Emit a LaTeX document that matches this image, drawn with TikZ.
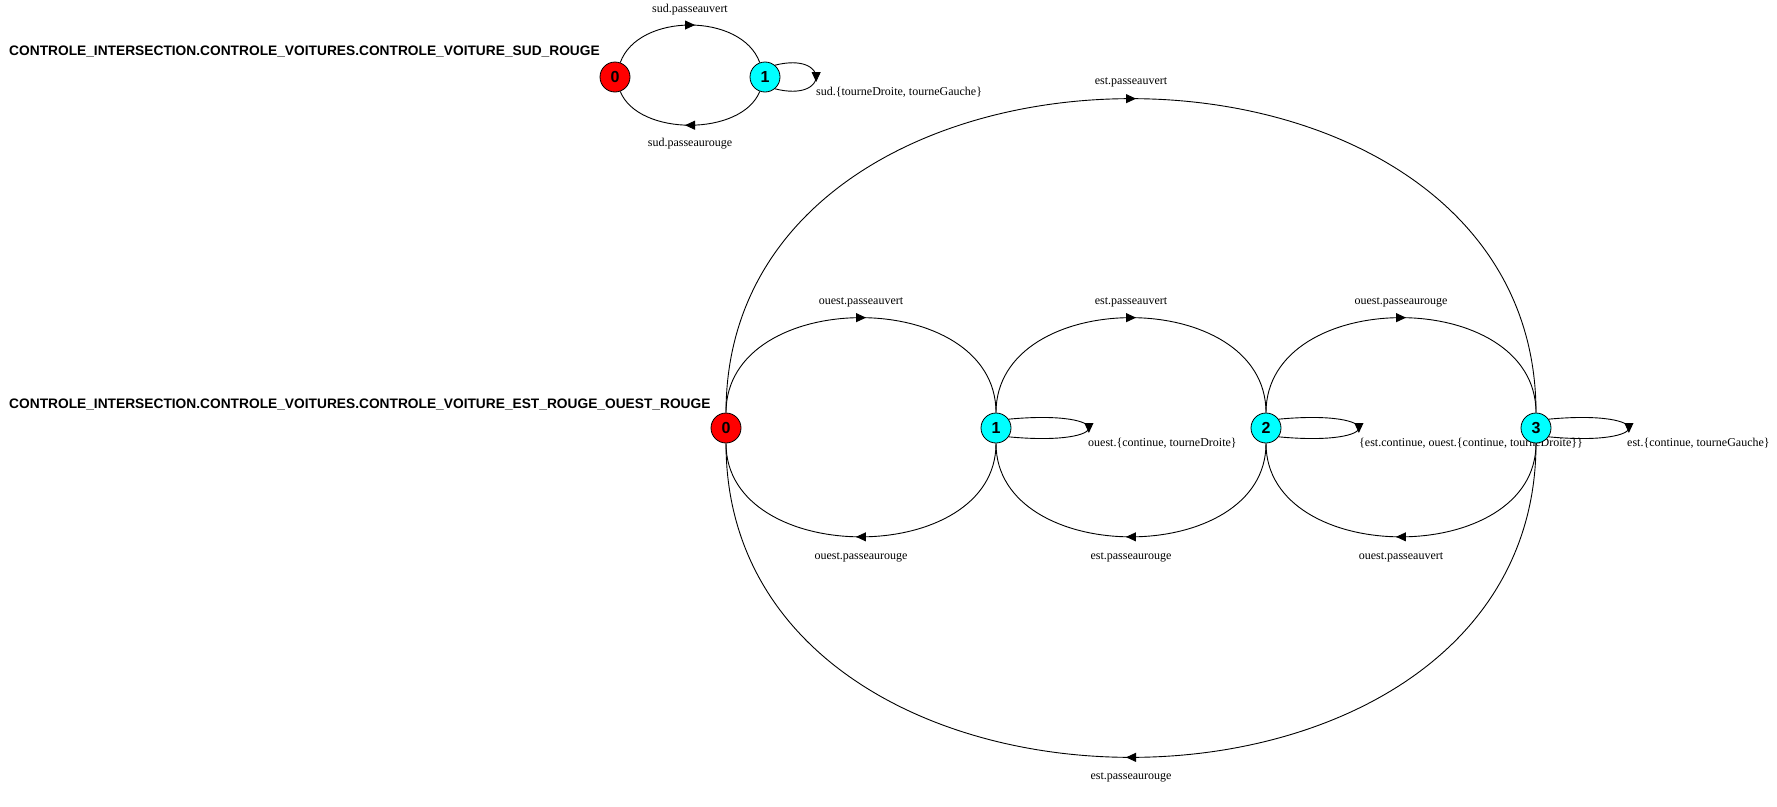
\documentclass[tikz,border=0pt]{standalone}
\usepackage{fontspec}
\setmainfont{Liberation Serif}
\newfontfamily\headfont{Liberation Sans}
\usetikzlibrary{arrows.meta,decorations.markings}
\pgfdeclarelayer{background}
\pgfsetlayers{background,main}
\definecolor{aqua}{RGB}{0,255,255}
\definecolor{pure red}{RGB}{255,0,0}

\tikzset{
  stnode/.style={circle, draw=black, line width=0.8pt, inner sep=0pt,
    minimum size=30pt,
    font=\headfont\bfseries\fontsize{16}{16}\selectfont},
  redstate/.style={stnode, fill=pure red},
  cyanstate/.style={stnode, fill=aqua},
  trans/.style={draw=black, line width=0.9pt, postaction={decorate},
    decoration={markings, mark=at position 0.5 with
      {\arrow[xshift=5pt]{Triangle[length=10pt,width=9pt]}}}},
  lbl/.style={font=\fontsize{12}{14}\selectfont, inner sep=0pt},
  looplbl/.style={lbl, anchor=west},
  title/.style={font=\headfont\bfseries\fontsize{13.75}{16}\selectfont,
    anchor=west, inner sep=0pt}
}

\begin{document}
\begin{tikzpicture}[x=1pt,y=-1pt]
\path[use as bounding box] (0,0) rectangle (1777,806);

% ---- process CONTROLE_VOITURE_SUD_ROUGE ----
\node[title] (t1) at (9,52) {CONTROLE\_INTERSECTION.CONTROLE\_VOITURES.CONTROLE\_VOITURE\_SUD\_ROUGE};
\node[redstate]  (a0) at (615,77) {0};
\node[cyanstate] (a1) at (765,77) {1};

% ---- process CONTROLE_VOITURE_EST_ROUGE_OUEST_ROUGE ----
\node[title] (t2) at (9,405) {CONTROLE\_INTERSECTION.CONTROLE\_VOITURES.CONTROLE\_VOITURE\_EST\_ROUGE\_OUEST\_ROUGE};
\node[redstate]  (b0) at (726,428) {0};
\node[cyanstate] (b1) at (996,428) {1};
\node[cyanstate] (b2) at (1266,428) {2};
\node[cyanstate] (b3) at (1536,428) {3};

\begin{pgfonlayer}{background}
  % transitions of the first process
  \draw[trans] (a0.70) .. controls +(18,-50) and +(-18,-50) .. (a1.110);
  \draw[trans] (a1.-110) .. controls +(-18,45) and +(18,45) .. (a0.-70);
  \draw[trans] (a1.50) .. controls +(55,-14) and +(55,14) .. (a1.-50);
  \node[lbl] (la01) at (690,10) {sud.passeauvert};
  \node[lbl] (la10) at (690,144) {sud.passeaurouge};
  \node[looplbl] (la11) at (816,92) {sud.\{tourneDroite, tourneGauche\}};

  % transitions of the second process
  \draw[trans] (b0) .. controls +(0,-142) and +(0,-142) .. (b1);
  \draw[trans] (b1) .. controls +(0,140) and +(0,140) .. (b0);
  \draw[trans] (b1) .. controls +(0,-142) and +(0,-142) .. (b2);
  \draw[trans] (b2) .. controls +(0,140) and +(0,140) .. (b1);
  \draw[trans] (b2) .. controls +(0,-142) and +(0,-142) .. (b3);
  \draw[trans] (b3) .. controls +(0,140) and +(0,140) .. (b2);
  \draw[trans] (b0) .. controls +(0,-434) and +(0,-434) .. (b3);
  \draw[trans] (b3) .. controls +(0,434) and +(0,434) .. (b0);
  \draw[trans] (b1.35) .. controls +(107,-10) and +(107,10) .. (b1.-35);
  \draw[trans] (b2.35) .. controls +(107,-10) and +(107,10) .. (b2.-35);
  \draw[trans] (b3.35) .. controls +(107,-10) and +(107,10) .. (b3.-35);

  \node[lbl] (lb01) at (861,302) {ouest.passeauvert};
  \node[lbl] (lb10) at (861,557) {ouest.passeaurouge};
  \node[lbl] (lb12) at (1131,302) {est.passeauvert};
  \node[lbl] (lb21) at (1131,557) {est.passeaurouge};
  \node[lbl] (lb23) at (1401,302) {ouest.passeaurouge};
  \node[lbl] (lb32) at (1401,557) {ouest.passeauvert};
  \node[lbl] (lb03) at (1131,82) {est.passeauvert};
  \node[lbl] (lb30) at (1131,777) {est.passeaurouge};
  \node[looplbl] (lb11) at (1088,443) {ouest.\{continue, tourneDroite\}};
  \node[looplbl] (lb22) at (1359,443) {\{est.continue, ouest.\{continue, tourneDroite\}\}};
  \node[looplbl] (lb33) at (1627,443) {est.\{continue, tourneGauche\}};
\end{pgfonlayer}
\end{tikzpicture}
\end{document}
